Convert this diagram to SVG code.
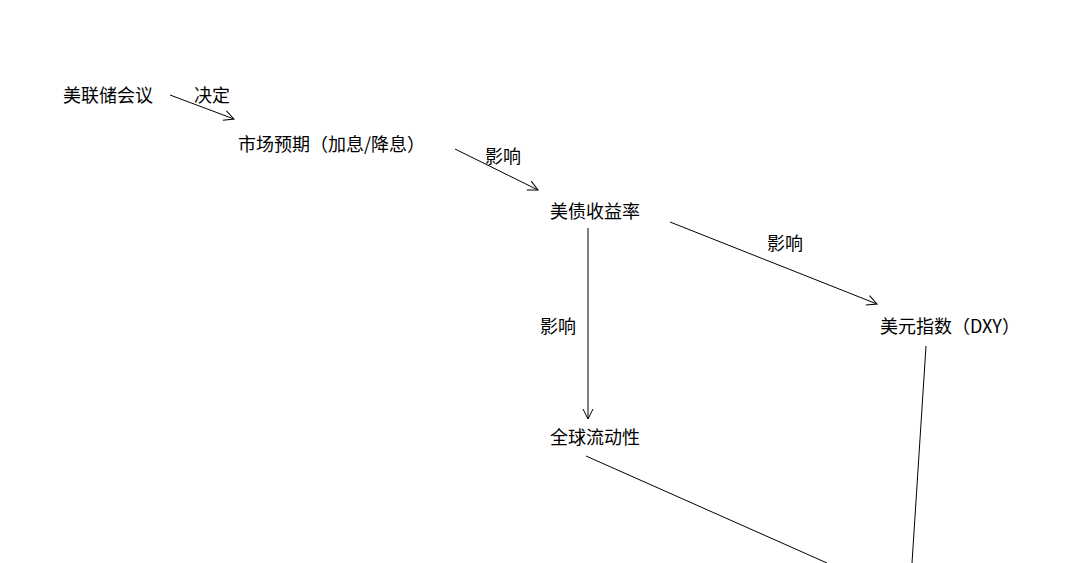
<svg xmlns="http://www.w3.org/2000/svg" width="1083" height="563" viewBox="0 0 1083 563">
<style>
text{font-family:"Noto Sans CJK SC","Noto Sans",sans-serif;font-size:18px;fill:#000}
.c line{stroke:#000;stroke-width:1;fill:none}
</style>
<defs><marker id="a" markerWidth="12" markerHeight="12" refX="11" refY="6" orient="auto" markerUnits="userSpaceOnUse"><path d="M1,1 L11,6 L1,11" fill="none" stroke="#000"/></marker></defs>
<rect width="1083" height="563" fill="#fff"/>
<g id="n1"><text x="63" y="102">美联储会议</text></g>
<g id="n2"><text x="238" y="151">市场预期（加息/降息）</text></g>
<g id="n3"><text x="550" y="218">美债收益率</text></g>
<g id="n4"><text x="880" y="333">美元指数（DXY）</text></g>
<g id="n5"><text x="550" y="444">全球流动性</text></g>
<g class="c" id="connectors">
<line x1="170" y1="95" x2="234" y2="119" marker-end="url(#a)"/>
<line x1="455" y1="149" x2="538" y2="190" marker-end="url(#a)"/>
<line x1="670" y1="222" x2="877" y2="304" marker-end="url(#a)"/>
<line x1="588" y1="228" x2="588" y2="419" marker-end="url(#a)"/>
<line x1="926" y1="346" x2="912" y2="563"/>
<line x1="586" y1="456" x2="827" y2="563"/>
<text x="194" y="102">决定</text>
<text x="485" y="163">影响</text>
<text x="767" y="250">影响</text>
<text x="540" y="333">影响</text>
</g>
</svg>
